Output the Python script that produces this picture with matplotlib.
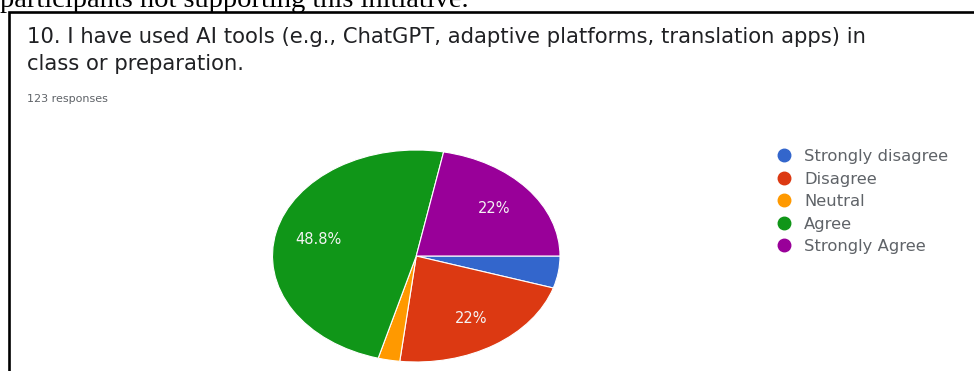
import matplotlib

matplotlib.use("Agg")
import matplotlib.pyplot as plt
from matplotlib.lines import Line2D
from matplotlib.patches import Rectangle

# survey answers for question 10 (123 responses)
labels = ["Strongly disagree", "Disagree", "Neutral", "Agree", "Strongly Agree"]
counts = [6, 27, 3, 60, 27]
colors = ["#3366cc", "#dc3912", "#ff9900", "#109618", "#990099"]

title_lines = [
    "10. I have used AI tools (e.g., ChatGPT, adaptive platforms, translation apps) in",
    "class or preparation.",
]
n_responses = "123 responses"
prev_text = "participants not supporting this initiative."

W, H = 974, 371


def fx(px):
    return px / W


def fy(py):
    return 1 - py / H


def pct_label(p):
    if p < 10:
        return ""
    s = f"{p:.1f}".rstrip("0").rstrip(".")
    return s + "%"


fig = plt.figure(figsize=(W / 100, H / 100), dpi=100)
fig.patch.set_facecolor("white")

# text from the page above the screenshot, cut off at the top
fig.text(fx(0), fy(7), prev_text, family="Liberation Serif", fontsize=20.5,
         color="black", va="baseline", ha="left")

# screenshot frame
fig.patches.append(Rectangle((fx(8.5), fy(400)), fx(1000), 388 / H,
                             transform=fig.transFigure, fill=False,
                             edgecolor="black", linewidth=1.9))

fig.text(fx(27), fy(43), title_lines[0], fontsize=15.2, color="#202124",
         va="baseline", ha="left")
fig.text(fx(27), fy(70.5), title_lines[1], fontsize=15.2, color="#202124",
         va="baseline", ha="left")
fig.text(fx(27), fy(102), n_responses, fontsize=8, color="#5f6368",
         va="baseline", ha="left")

# pie is stretched sideways in the screenshot, so use a non-square axes
ax = fig.add_axes([fx(272.5), fy(362), fx(287.5), 212 / H])
wedges, _, autotexts = ax.pie(
    counts, colors=colors, startangle=0, counterclock=False,
    autopct=pct_label, pctdistance=0.7,
    wedgeprops=dict(edgecolor="white", linewidth=0.8),
    textprops=dict(color="#f4f4f4", fontsize=10.5),
)
ax.set_aspect("auto")
ax.set_xlim(-1, 1)
ax.set_ylim(-1, 1)

handles = [Line2D([], [], marker="o", linestyle="", markersize=9,
                  markerfacecolor=c, markeredgecolor=c) for c in colors]
fig.legend(handles, labels, loc="upper left",
           bbox_to_anchor=(fx(777), fy(149)), frameon=False,
           fontsize=11.8, labelcolor="#5f6368", labelspacing=0.46,
           handlelength=0.9, handletextpad=0.75, borderpad=0, borderaxespad=0)

fig.savefig("out.png", dpi=100)
